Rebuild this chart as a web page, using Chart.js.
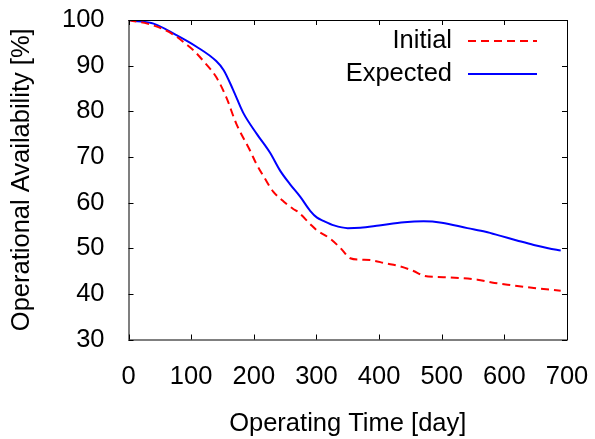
<!DOCTYPE html>
<html>
<head>
<meta charset="utf-8">
<script src="https://cdn.jsdelivr.net/npm/chart.js@4.4.1/dist/chart.umd.min.js"></script>
<style>
  html, body { margin: 0; padding: 0; background: #fff; }
  #wrap { width: 595px; height: 439px; }
</style>
</head>
<body>
<div id="wrap"><canvas id="availChart" width="595" height="439"></canvas></div>
<script>
// Values
const initialDays   = [0, 7, 30, 55, 75, 92, 105, 119, 140, 156, 172, 194, 204, 218, 231, 248, 263, 270, 290, 300, 322, 340, 354, 370, 386, 410, 434, 455, 471, 490, 514, 557, 580, 605, 647, 690];
const initialValues = [100, 99.8, 99.2, 98.0, 96.5, 94.7, 93.2, 91.1, 87.5, 83.1, 77.3, 71.4, 68.5, 65.2, 62.4, 60.2, 58.6, 58.0, 55.3, 54.0, 52.1, 49.8, 47.8, 47.5, 47.4, 46.7, 46.0, 45.0, 44.0, 43.7, 43.6, 43.1, 42.5, 42.0, 41.3, 40.7];

const expectedDays   = [0, 10, 40, 75, 108, 140, 152, 167, 183, 205, 226, 242, 258, 274, 290, 301, 311, 328, 350, 370, 400, 440, 471, 500, 541, 570, 594, 620, 647, 670, 690];
const expectedValues = [100, 99.8, 99.2, 96.8, 94.2, 91.0, 89.0, 84.7, 79.7, 75.0, 70.9, 67.0, 64.0, 61.3, 58.2, 56.7, 56.0, 55.0, 54.4, 54.5, 55.0, 55.7, 55.9, 55.6, 54.4, 53.6, 52.7, 51.7, 50.7, 50.0, 49.5];

const xTicks = [0, 100, 200, 300, 400, 500, 600, 700];
const yTicks = [30, 40, 50, 60, 70, 80, 90, 100];

const FONT = "'Liberation Sans', Arial, sans-serif";
const FSIZE = 25.5;

function points(xs, ys){ return xs.map((x, i) => ({ x: x, y: ys[i] })); }

// frame + inward ticks on all four sides (gnuplot style)
const framePlugin = {
  id: 'frame',
  afterDatasetsDraw(chart){
    const { ctx, chartArea: a, scales } = chart;
    ctx.save();
    ctx.strokeStyle = '#000';
    ctx.lineWidth = 1;
    ctx.strokeRect(a.left + 0.5, a.top + 0.5, a.right - a.left, a.bottom - a.top);
    ctx.beginPath();
    xTicks.forEach(v => {
      const px = Math.round(scales.x.getPixelForValue(v)) + 0.5;
      ctx.moveTo(px, a.bottom); ctx.lineTo(px, a.bottom - 5);
      ctx.moveTo(px, a.top); ctx.lineTo(px, a.top + 5);
    });
    yTicks.forEach(v => {
      const py = Math.round(scales.y.getPixelForValue(v)) + 0.5;
      ctx.moveTo(a.left, py); ctx.lineTo(a.left + 5, py);
      ctx.moveTo(a.right, py); ctx.lineTo(a.right - 5, py);
    });
    ctx.stroke();
    ctx.restore();
  }
};

// key in the top right corner: label then line sample
const keyPlugin = {
  id: 'key',
  afterDraw(chart){
    const { ctx, chartArea: a } = chart;
    ctx.save();
    ctx.font = FSIZE + 'px ' + FONT;
    ctx.textAlign = 'right';
    ctx.textBaseline = 'middle';
    chart.data.datasets.forEach((ds, i) => {
      const y = a.top + 21 + i * 33;
      ctx.fillStyle = '#000';
      ctx.fillText(ds.label, a.right - 115, y);
      ctx.strokeStyle = ds.borderColor;
      ctx.lineWidth = ds.borderWidth;
      ctx.setLineDash(ds.borderDash || []);
      ctx.beginPath();
      ctx.moveTo(a.right - 99, y);
      ctx.lineTo(a.right - 30, y);
      ctx.stroke();
    });
    ctx.restore();
  }
};

new Chart(document.getElementById('availChart').getContext('2d'), {
  type: 'line',
  data: {
    datasets: [
      { label: 'Initial', data: points(initialDays, initialValues), borderColor: '#ff0000', borderWidth: 2,
        borderDash: [8, 5], pointRadius: 0, cubicInterpolationMode: 'monotone', fill: false },
      { label: 'Expected', data: points(expectedDays, expectedValues), borderColor: '#0000ff', borderWidth: 2,
        pointRadius: 0, cubicInterpolationMode: 'monotone', fill: false }
    ]
  },
  options: {
    responsive: false,
    animation: false,
    layout: { padding: { left: 0, right: 28, top: 20, bottom: 0 } },
    plugins: { legend: { display: false }, tooltip: { enabled: false } },
    scales: {
      x: {
        type: 'linear', min: 0, max: 700,
        afterBuildTicks: s => { s.ticks = xTicks.map(v => ({ value: v })); },
        afterFit: s => { s.height = 99.5; s.paddingLeft = 0; s.paddingRight = 0; },
        grid: { display: false },
        border: { display: false },
        ticks: { color: '#000', font: { family: FONT, size: FSIZE }, padding: 14, maxRotation: 0 },
        title: { display: true, text: 'Operating Time [day]', color: '#000', font: { family: FONT, size: FSIZE }, padding: { top: 0, bottom: 0 } }
      },
      y: {
        min: 30, max: 100,
        afterBuildTicks: s => { s.ticks = yTicks.map(v => ({ value: v })); },
        afterFit: s => { s.width = 128.5; s.paddingTop = 0; s.paddingBottom = 0; },
        grid: { display: false },
        border: { display: false },
        ticks: { color: '#000', font: { family: FONT, size: FSIZE }, padding: 16 },
        title: { display: true, text: 'Operational Availability [%]', color: '#000', font: { family: FONT, size: FSIZE }, padding: { top: 7, bottom: 0 } }
      }
    }
  },
  plugins: [framePlugin, keyPlugin]
});
</script>
</body>
</html>
